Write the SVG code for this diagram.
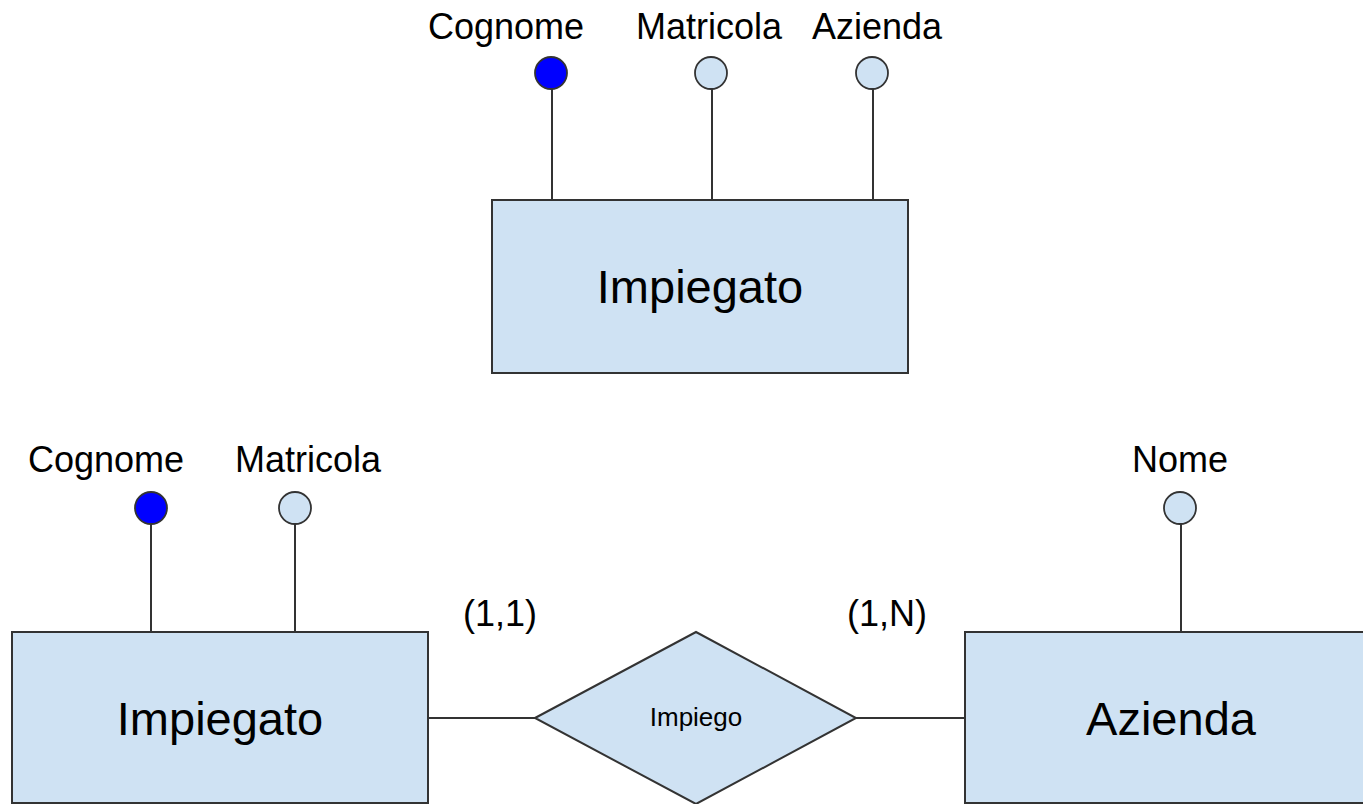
<svg xmlns="http://www.w3.org/2000/svg" width="1363" height="804" viewBox="0 0 1363 804">
<style>
.ent{fill:#cfe2f3;stroke:#333333;stroke-width:2}
.attr{fill:#cfe2f3;stroke:#333333;stroke-width:1.8}
.key{fill:#0000ff;stroke:#333333;stroke-width:1.8}
.ln{stroke:#333333;stroke-width:2;fill:none}
text{font-family:"Liberation Sans",Arial,sans-serif;fill:#000000;text-anchor:middle}
.lbl{font-size:36px}
.big{font-size:47px}
.sm{font-size:26px}
</style>
<rect width="1363" height="804" fill="#ffffff"/>
<g id="connectors">
<line class="ln" x1="552" y1="89" x2="552" y2="200"/>
<line class="ln" x1="712" y1="89" x2="712" y2="200"/>
<line class="ln" x1="873" y1="89" x2="873" y2="200"/>
<line class="ln" x1="151" y1="524" x2="151" y2="632"/>
<line class="ln" x1="295" y1="524" x2="295" y2="632"/>
<line class="ln" x1="1181" y1="524" x2="1181" y2="632"/>
<line class="ln" x1="428" y1="718" x2="535" y2="718"/>
<line class="ln" x1="856" y1="718" x2="965" y2="718"/>
</g>
<g id="attr-top-cognome">
<circle class="key" cx="551" cy="73" r="16"/>
<text class="lbl" x="506" y="39">Cognome</text>
</g>
<g id="attr-top-matricola">
<circle class="attr" cx="711" cy="73" r="16"/>
<text class="lbl" x="709" y="39">Matricola</text>
</g>
<g id="attr-top-azienda">
<circle class="attr" cx="872" cy="73" r="16"/>
<text class="lbl" x="877" y="39">Azienda</text>
</g>
<g id="entity-impiegato-top">
<rect class="ent" x="492" y="200" width="416" height="173"/>
<text class="big" x="700" y="303">Impiegato</text>
</g>
<g id="attr-bottom-cognome">
<circle class="key" cx="151" cy="508" r="16"/>
<text class="lbl" x="106" y="472">Cognome</text>
</g>
<g id="attr-bottom-matricola">
<circle class="attr" cx="295" cy="508" r="16"/>
<text class="lbl" x="308" y="472">Matricola</text>
</g>
<g id="attr-nome">
<circle class="attr" cx="1180" cy="508" r="16"/>
<text class="lbl" x="1180" y="472">Nome</text>
</g>
<g id="entity-impiegato-bottom">
<rect class="ent" x="12" y="632" width="416" height="171"/>
<text class="big" x="220" y="735">Impiegato</text>
</g>
<g id="relation-impiego">
<polygon class="ent" points="535,718 696,632 856,718 696,804"/>
<text class="sm" x="696" y="726">Impiego</text>
</g>
<g id="entity-azienda">
<rect class="ent" x="965" y="632" width="410" height="171"/>
<text class="big" x="1171" y="735">Azienda</text>
</g>
<g id="cardinalities">
<text class="lbl" x="500" y="626">(1,1)</text>
<text class="lbl" x="887" y="626">(1,N)</text>
</g>
</svg>
